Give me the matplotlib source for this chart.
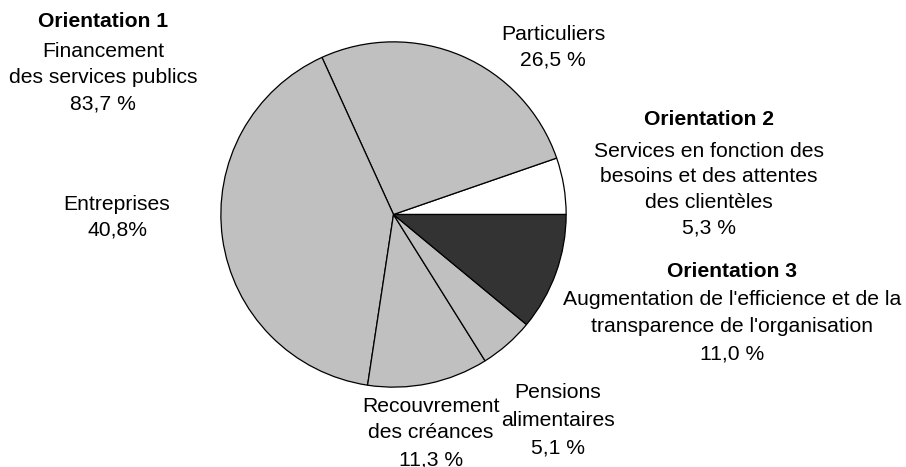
import matplotlib
matplotlib.use("Agg")
import matplotlib.pyplot as plt

plt.rcParams['font.family'] = ['Liberation Sans', 'DejaVu Sans']

W, H = 906, 467
# slices in counter-clockwise order starting at 3 o'clock
labels = ["Orientation 2", "Particuliers", "Entreprises", "Recouvrement des créances",
          "Pensions alimentaires", "Orientation 3"]
values = [5.3, 26.5, 40.8, 11.3, 5.1, 11.0]
colors = ["#FFFFFF", "#C0C0C0", "#C0C0C0", "#C0C0C0", "#C0C0C0", "#333333"]

fig = plt.figure(figsize=(W / 100, H / 100), dpi=100)
cx, cy, r = 393.5, 214.5, 173.5
ax = fig.add_axes([(cx - r) / W, (H - cy - r) / H, 2 * r / W, 2 * r / H])
ax.pie(values, colors=colors, startangle=0, counterclock=True, radius=1,
       wedgeprops=dict(edgecolor="black", linewidth=0.9))
ax.set_xlim(-1.005, 1.005)
ax.set_ylim(-1.005, 1.005)
ax.set_aspect('equal')
ax.axis('off')

FS = 15.2

def block(x, lines):
    for txt, yb, bold in lines:
        fig.text(x / W, 1 - yb / H, txt, ha='center', va='baseline',
                 fontsize=FS, fontweight='bold' if bold else 'normal')

block(103, [("Orientation 1", 27, True), ("Financement", 57, False),
            ("des services publics", 83, False), ("83,7 %", 110, False)])
block(553, [("Particuliers", 40, False), ("26,5 %", 65, False)])
block(709, [("Orientation 2", 125, True), ("Services en fonction des", 157, False),
            ("besoins et des attentes", 182, False), ("des clientèles", 208, False),
            ("5,3 %", 233, False)])
block(732, [("Orientation 3", 277, True), ("Augmentation de l'efficience et de la", 305, False),
            ("transparence de l'organisation", 332, False), ("11,0 %", 360, False)])
block(117, [("Entreprises", 210, False), ("40,8%", 235, False)])
block(431, [("Recouvrement", 412, False), ("des créances", 438, False), ("11,3 %", 465, False)])
block(558, [("Pensions", 398, False), ("alimentaires", 426, False), ("5,1 %", 453, False)])

fig.savefig("out.png", dpi=100)
